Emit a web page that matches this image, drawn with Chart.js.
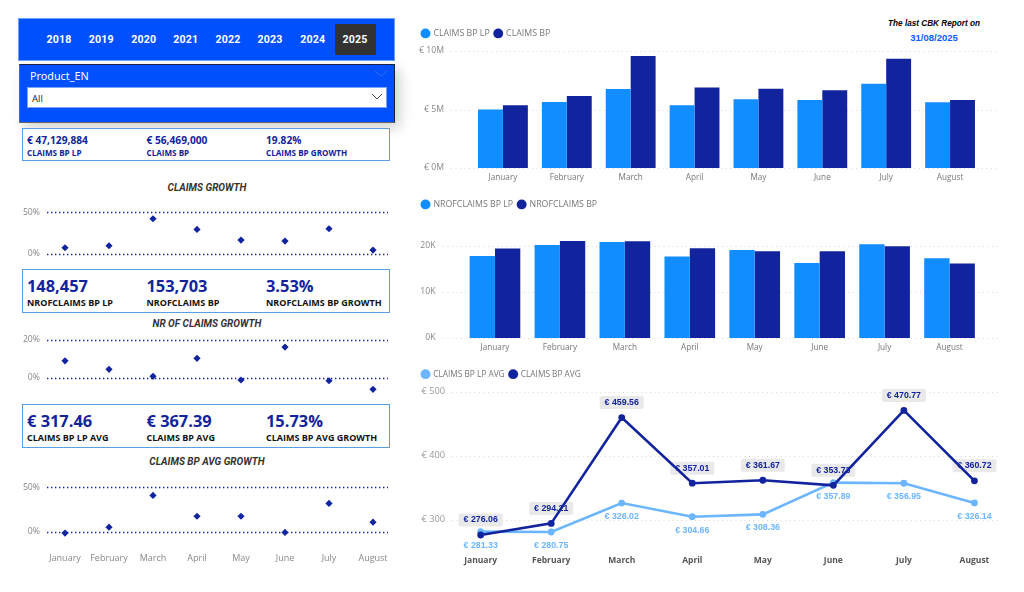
<!DOCTYPE html>
<html><head><meta charset="utf-8">
<script src="https://cdn.jsdelivr.net/npm/chart.js@4"></script>
<style>
html,body{margin:0;padding:0;background:#fff;width:1024px;height:592px;overflow:hidden;font-family:"Open Sans",sans-serif}
.abs,canvas{position:absolute}
.t{position:absolute;white-space:nowrap;line-height:1;transform:translateY(-50%)}
.kpi{position:absolute;left:22px;width:366px;border:1.5px solid #5a9fe0;background:#fff;box-sizing:content-box}
.yr{position:absolute;top:39px;transform:translate(-50%,-50%);color:#fff;font:700 10.6px Roboto,sans-serif;letter-spacing:.2px}
.ttl{position:absolute;left:23px;width:368px;text-align:center;transform:translateY(-50%);font:italic 700 10px Roboto,sans-serif;color:#333;line-height:1}
</style></head><body>
<div class="abs" style="left:18px;top:18px;width:375px;height:41px;background:#0050ff;border:.8px solid #6ea4f5"></div>
<div class="abs" style="left:335px;top:24px;width:41px;height:31px;background:#333"></div>
<div id="years"></div>
<div class="abs" style="left:18.5px;top:64px;width:374px;height:57px;background:#0050ff;border:1px solid #1c2340;border-left-color:#666;border-bottom-color:#666;box-shadow:5px 5px 12px rgba(0,0,0,.18)"></div>
<div class="t" style="left:30px;top:75px;color:#fff;font:400 10.8px 'Noto Sans',sans-serif">Product_EN</div>
<svg class="abs" style="left:374px;top:70px" width="14" height="8"><path d="M1 1l6 5 6-5" fill="none" stroke="#2b6cf0"/></svg>
<div class="abs" style="left:27px;top:86.5px;width:358px;height:19px;background:#fff;border:.8px solid #7ea6f5"></div>
<div class="t" style="left:32px;top:97.5px;color:#222;font:400 9.5px 'Open Sans',sans-serif">All</div>
<svg class="abs" style="left:371px;top:93px" width="12" height="8"><path d="M1 1l5 5 5-5" fill="none" stroke="#444"/></svg>

<div class="kpi" style="top:128px;height:31px"></div>
<div class="kpi" style="top:268.5px;height:42px"></div>
<div class="kpi" style="top:403.5px;height:42px"></div>
<div id="kpis"></div>

<div class="ttl" style="top:188px">CLAIMS GROWTH</div>
<div class="ttl" style="top:323.5px">NR OF CLAIMS GROWTH</div>
<div class="ttl" style="top:462px">CLAIMS BP AVG GROWTH</div>

<div class="t" style="left:934px;top:23px;transform:translate(-50%,-50%);color:#000;font:italic 700 8.2px 'Liberation Sans',sans-serif">The last CBK Report on</div>
<div class="t" style="left:934px;top:37px;transform:translate(-50%,-50%);color:#0a5cff;font:700 9.5px 'Liberation Sans',sans-serif">31/08/2025</div>

<canvas id="c1"></canvas><canvas id="c2"></canvas><canvas id="c3"></canvas>
<canvas id="s1"></canvas><canvas id="s2"></canvas><canvas id="s3"></canvas>
<script>
const years=['2018','2019','2020','2021','2022','2023','2024','2025'];
const months=['January','February','March','April','May','June','July','August'];

const claimsLP=[5.01,5.64,6.75,5.36,5.87,5.81,7.21,5.61];
const claimsBP=[5.36,6.15,9.57,6.89,6.78,6.64,9.34,5.81];
const claimsTicks=[0,5,10];

const nrLP=[17.77,20.14,20.79,17.63,19.07,16.26,20.29,17.27];
const nrBP=[19.35,21.0,20.93,19.42,18.78,18.78,19.86,16.12];
const nrTicks=[0,10,20];

const avgLP=[281.33,280.75,326.02,304.66,308.36,357.89,356.95,326.14];
const avgBP=[276.06,294.21,459.56,357.01,361.67,353.73,470.77,360.72];
const avgTicks=[300,400,500];

const claimsGrowth=[7.2,9.6,42,29.2,16.4,15.2,30,4.4];
const nrGrowth=[8.9,4.4,0.7,10.2,-1.2,16.1,-1.6,-6.1];
const avgGrowth=[-1.5,5.2,41,17.5,17.5,-0.7,32,10.8];
const claimsGrowthTicks=[0,50];
const nrGrowthTicks=[0,20];
const avgGrowthTicks=[0,50];

const kpiRows=[
 {vals:['€ 47,129,884','€ 56,469,000','19.82%'],labs:['CLAIMS BP LP','CLAIMS BP','CLAIMS BP GROWTH'],vy:140,ly:152,vf:'700 10.2px',lf:'700 8.1px',lc:'#12239E'},
 {vals:['148,457','153,703','3.53%'],labs:['NROFCLAIMS BP LP','NROFCLAIMS BP','NROFCLAIMS BP GROWTH'],vy:285,ly:302,vf:'700 16.4px',lf:'700 9px',lc:'#111'},
 {vals:['€ 317.46','€ 367.39','15.73%'],labs:['CLAIMS BP LP AVG','CLAIMS BP AVG','CLAIMS BP AVG GROWTH'],vy:420,ly:437,vf:'700 16.4px',lf:'700 9px',lc:'#111'}
];
const kpiX=[27,146.5,266];
const yearX=[59,101.3,143.7,185.7,228,270,312.7,355];

document.getElementById('years').innerHTML=years.map((y,i)=>`<div class="yr" style="left:${yearX[i]}px">${y}</div>`).join('');
document.getElementById('kpis').innerHTML=kpiRows.map(r=>r.vals.map((v,i)=>
 `<div class="t" style="left:${kpiX[i]}px;top:${r.vy}px;color:#12239E;font:${r.vf} 'Open Sans',sans-serif">${v}</div>`+
 `<div class="t" style="left:${kpiX[i]}px;top:${r.ly}px;color:${r.lc};font:${r.lf} 'Open Sans',sans-serif">${r.labs[i]}</div>`).join('')).join('');

Chart.defaults.animation=false;
Chart.defaults.responsive=false;
Chart.defaults.font.family="'Open Sans',sans-serif";
Chart.defaults.layout.autoPadding=false;

const legendGap={id:'legendGap',beforeLayout(chart,a,o){
  if(o.h&&chart.legend&&!chart.legend._gapDone){
    const f=chart.legend.fit;chart.legend.fit=function(){f.call(this);this.height=o.h;};chart.legend._gapDone=true;}
}};
const extGrid={id:'extGrid',beforeDatasetsDraw(chart,a,o){
  const y=chart.scales.y,c=chart.ctx;c.save();c.strokeStyle=o.color;c.lineWidth=o.width;c.setLineDash(o.dash);
  y.ticks.forEach(t=>{const p=Math.round(y.getPixelForValue(t.value))+.5;c.beginPath();c.moveTo(o.x0-o.left,p);c.lineTo(o.x1-o.left,p);c.stroke();});
  c.restore();
}};
const valueLabels={id:'valueLabels',beforeDatasetsDraw(chart,a,o){
  if(!o.on)return;const c=chart.ctx;c.save();c.textAlign='center';c.textBaseline='middle';c.font="700 8.8px 'Liberation Sans',sans-serif";
  chart.data.datasets.forEach((ds,i)=>{
    const m=chart.getDatasetMeta(i);
    m.data.forEach((pt,j)=>{
      const txt='€ '+ds.data[j].toFixed(2);
      if(ds.labelBox){
        const yy=pt.y-15;c.fillStyle='#e9e9ea';c.beginPath();c.roundRect(pt.x-22,yy-6.5,44,13,2);c.fill();
        c.fillStyle='#12239E';c.fillText(txt,pt.x,yy);
      }else{c.fillStyle=ds.borderColor;c.fillText(txt,pt.x,pt.y+13.5);}
    });
  });
  c.restore();
}};
Chart.register(legendGap,extGrid,valueLabels);

function box(id,L,T,R,B){const e=document.getElementById(id);e.width=R-L;e.height=B-T;e.style.left=L+'px';e.style.top=T+'px';return e;}

function scales(o){
 return {
  x:{display:o.showX!==false,offset:true,grid:{display:false,drawTicks:false},border:{display:false},
     ticks:{autoSkip:false,maxRotation:0,minRotation:0,padding:o.xPad||4,color:o.xColor||'#777',font:{size:o.xSize||8.2,weight:o.xWeight||400,family:o.xFam||"'Open Sans',sans-serif"}},
     afterFit(s){s.height=o.xH;s.paddingLeft=0;s.paddingRight=0;}},
  y:{min:o.min,max:o.max,grid:{display:false,drawTicks:false},border:{display:false},
     afterBuildTicks(s){s.ticks=o.ticks.map(v=>({value:v}));},
     afterFit(s){s.width=o.W;s.paddingTop=0;s.paddingBottom=0;},
     ticks:{padding:o.yPad,color:o.yColor||'#888',font:{size:o.ySize||8.7},callback:o.fmt}}
 };
}
const legendOpts=size=>({position:'top',align:'start',labels:{usePointStyle:true,pointStyle:'circle',boxWidth:7,boxHeight:7,padding:5,color:'#777',font:{size},sort:(a,b)=>a.datasetIndex-b.datasetIndex}});
function barChart(id,rect,o,names,a,b){
 const e=box(id,...rect);
 new Chart(e,{type:'bar',data:{labels:months,datasets:[
   {label:names[0],data:a,backgroundColor:'#118DFF',categoryPercentage:.78,barPercentage:1},
   {label:names[1],data:b,backgroundColor:'#12239E',categoryPercentage:.78,barPercentage:1}]},
  options:{layout:{padding:{right:o.padR,left:0,top:0,bottom:0}},scales:scales(o),plugins:{tooltip:{enabled:false},
   legend:legendOpts(8.8),
   legendGap:{h:o.legH},extGrid:{x0:o.gx0,x1:o.gx1,left:rect[0],color:'#d8d8d8',width:1,dash:[1,3.5]},valueLabels:{on:false}}}});
}
barChart('c1',[417,24,1010,190],{padR:28,W:54,min:0,max:10,ticks:claimsTicks,yPad:27,legH:27,xH:22,xPad:5.2,gx0:451,gx1:1000,
  fmt:v=>'€ '+v+'M'},['CLAIMS BP LP','CLAIMS BP'],claimsLP,claimsBP);
barChart('c2',[417,195,1010,360],{padR:28,W:45.5,min:0,max:25,ticks:nrTicks,yPad:27,legH:27.5,xH:22,xPad:5.2,gx0:443,gx1:1000,
  fmt:v=>v+'K'},['NROFCLAIMS BP LP','NROFCLAIMS BP'],nrLP,nrBP);

(function(){
 const e=box('c3',417,365,1024,578);
 const o={W:28.4,min:260,max:500,ticks:avgTicks,yPad:0.5,xH:32.7,xPad:9.7,xColor:'#555',xWeight:700,xSize:8.5,fmt:v=>'€ '+v,ySize:9.2,yColor:'#999'};
 new Chart(e,{type:'line',data:{labels:months,datasets:[
  {label:'CLAIMS BP LP AVG',data:avgLP,borderColor:'#6CB6FF',backgroundColor:'#6CB6FF',borderWidth:2.6,pointRadius:3.4,pointBackgroundColor:'#6CB6FF',pointBorderWidth:0,tension:0,order:1},
  {label:'CLAIMS BP AVG',data:avgBP,borderColor:'#12239E',backgroundColor:'#12239E',borderWidth:2.6,pointRadius:3.4,pointBackgroundColor:'#12239E',pointBorderWidth:0,tension:0,order:0,labelBox:true}]},
 options:{layout:{padding:{right:14.3,left:0,top:0,bottom:0}},clip:false,scales:scales(o),plugins:{tooltip:{enabled:false},
   legend:legendOpts(8.3),
   legendGap:{h:26.7},extGrid:{x0:452,x1:1000,left:417,color:'#d8d8d8',width:1,dash:[1,3.5]},valueLabels:{on:true}}}});
})();

function growth(id,rect,o,data){
 const e=box(id,...rect);
 new Chart(e,{type:'line',data:{labels:months,datasets:[{label:'Growth',data,showLine:false,pointStyle:'rectRot',pointRadius:3.6,pointBackgroundColor:'#12239E',pointBorderWidth:0,borderColor:'#12239E'}]},
 options:{layout:{padding:{top:o.padT,bottom:o.padB,left:0,right:o.padR}},clip:false,scales:scales(o),plugins:{tooltip:{enabled:false},legend:{display:false},
   extGrid:{x0:47,x1:388,left:rect[0],color:'#12239E',width:1.3,dash:[1.4,2.6]},valueLabels:{on:false}}}});
}
const pct=v=>v+'%';
growth('s1',[20,200,405,266],{showX:false,W:23,padR:10,padT:7.9,padB:8.1,min:-5,max:55,ticks:claimsGrowthTicks,yPad:3,fmt:pct,xH:0},claimsGrowth);
growth('s2',[20,322,405,405],{showX:false,W:23,padR:10,padT:8.2,padB:8.3,min:-10,max:25,ticks:nrGrowthTicks,yPad:3,fmt:pct,xH:0},nrGrowth);
growth('s3',[20,474.5,405,572],{W:23,padR:10,padT:8,padB:0,min:-5,max:55,ticks:avgGrowthTicks,yPad:3,fmt:pct,xH:35.8,xPad:17,xSize:9,xColor:'#888'},avgGrowth);
</script>
</body></html>
